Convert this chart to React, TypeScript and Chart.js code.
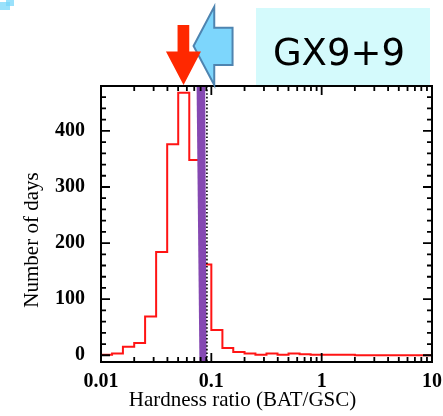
import React, { useEffect, useRef } from "react";
import { Chart, registerables } from "chart.js";

Chart.register(...registerables);

// ---- data ----
const binEdges = [
  0.01, 0.0126, 0.0158, 0.02, 0.0251, 0.0316, 0.0398, 0.0501, 0.0631, 0.0794,
  0.1, 0.126, 0.158, 0.2, 0.251, 0.316, 0.398, 0.501, 0.631, 0.794,
  1, 1.26, 1.58, 2, 2.51, 3.16, 3.98, 5.01, 6.31, 7.94, 10,
];
const dayCounts = [
  1, 3, 15, 22, 69, 184, 376, 468, 348, 162,
  45, 13, 6, 3, 1, 3, 1, 3, 2, 1,
  1, 1, 1, 0, 0, 0, 0, 0, 0, 0,
];
const xTickValues = [0.01, 0.1, 1, 10];
const xTickLabels = ["0.01", "0.1", "1", "10"];
const xMinorMultipliers = [2, 3, 4, 5, 6, 7, 8, 9];
const yTickValues = [0, 100, 200, 300, 400];
const yTickLabels = ["0", "100", "200", "300", "400"];
const yMinorStep = 20;
const yMin = -12;
const yMax = 480;
const bandTop = [0.0735, 0.088];
const bandBottom = [0.078, 0.0905];
const dottedLineX = 0.0912;
const redArrowX = 0.056;
const blueArrowX = 0.069;
const sourceName = "GX9+9";
const xTitle = "Hardness ratio (BAT/GSC)";
const yTitle = "Number of days";

const SERIF = "'Liberation Serif', 'Times New Roman', serif";

const decorPlugin = {
  id: "decor",
  afterDatasetsDraw(chart: any) {
    const { ctx, chartArea: a } = chart;
    const x = chart.scales.x;
    ctx.save();
    // purple band
    ctx.fillStyle = "rgb(133,72,178)";
    ctx.beginPath();
    ctx.moveTo(x.getPixelForValue(bandTop[0]), a.top);
    ctx.lineTo(x.getPixelForValue(bandTop[1]), a.top);
    ctx.lineTo(x.getPixelForValue(bandBottom[1]), a.bottom);
    ctx.lineTo(x.getPixelForValue(bandBottom[0]), a.bottom);
    ctx.closePath();
    ctx.fill();
    // dotted line
    const dx = x.getPixelForValue(dottedLineX);
    ctx.strokeStyle = "#000";
    ctx.lineWidth = 1.6;
    ctx.setLineDash([1.6, 2]);
    ctx.beginPath();
    ctx.moveTo(dx, a.top);
    ctx.lineTo(dx, a.bottom);
    ctx.stroke();
    ctx.restore();
  },
  afterDraw(chart: any) {
    const { ctx, chartArea: a } = chart;
    const x = chart.scales.x;
    const y = chart.scales.y;
    ctx.save();
    // frame
    ctx.strokeStyle = "#000";
    ctx.lineWidth = 2;
    ctx.strokeRect(a.left, a.top, a.right - a.left, a.bottom - a.top);
    // y ticks
    ctx.lineWidth = 1.8;
    ctx.beginPath();
    for (let v = 0; v <= yMax; v += yMinorStep) {
      const py = y.getPixelForValue(v);
      if (py < a.top + 1) continue;
      const len = yTickValues.includes(v) ? 9 : 5;
      ctx.moveTo(a.left, py);
      ctx.lineTo(a.left + len, py);
      ctx.moveTo(a.right, py);
      ctx.lineTo(a.right - len, py);
    }
    // x ticks
    for (let d = 0; d < xTickValues.length; d++) {
      const dec = xTickValues[d];
      const px = x.getPixelForValue(dec);
      ctx.moveTo(px, a.bottom);
      ctx.lineTo(px, a.bottom - 9);
      ctx.moveTo(px, a.top);
      ctx.lineTo(px, a.top + 9);
      if (d < xTickValues.length - 1) {
        for (const m of xMinorMultipliers) {
          const mx = x.getPixelForValue(dec * m);
          ctx.moveTo(mx, a.bottom);
          ctx.lineTo(mx, a.bottom - 5);
          ctx.moveTo(mx, a.top);
          ctx.lineTo(mx, a.top + 5);
        }
      }
    }
    ctx.stroke();

    // axis titles
    ctx.fillStyle = "#000";
    ctx.font = `21px ${SERIF}`;
    ctx.textAlign = "center";
    ctx.textBaseline = "alphabetic";
    ctx.fillText(xTitle, 242.5, 406);
    ctx.save();
    ctx.translate(38, 240);
    ctx.rotate(-Math.PI / 2);
    ctx.fillText(yTitle, 0, 0);
    ctx.restore();

    // cyan label box
    ctx.fillStyle = "rgb(212,250,252)";
    ctx.fillRect(256, 8, 174, a.top - 9);
    ctx.fillStyle = "#000";
    ctx.font = "37px 'DejaVu Sans', Verdana, sans-serif";
    ctx.textAlign = "center";
    ctx.fillText(sourceName, 339, 65);

    // blue arrow (pointing left)
    const bx = x.getPixelForValue(blueArrowX);
    ctx.beginPath();
    ctx.moveTo(bx, 46);
    ctx.lineTo(bx + 20.7, 6.7);
    ctx.lineTo(bx + 20.7, 27.7);
    ctx.lineTo(bx + 39, 27.7);
    ctx.lineTo(bx + 39, 65);
    ctx.lineTo(bx + 20.7, 65);
    ctx.lineTo(bx + 20.7, a.top - 1);
    ctx.closePath();
    ctx.fillStyle = "rgb(125,214,252)";
    ctx.fill();
    ctx.strokeStyle = "rgb(78,132,176)";
    ctx.lineWidth = 2;
    ctx.stroke();

    // red arrow (pointing down)
    const rx = x.getPixelForValue(redArrowX);
    ctx.beginPath();
    ctx.moveTo(rx - 6, 25);
    ctx.lineTo(rx + 5.7, 25);
    ctx.lineTo(rx + 5.7, 51.5);
    ctx.lineTo(rx + 17.4, 51.5);
    ctx.lineTo(rx, a.top - 1);
    ctx.lineTo(rx - 17.6, 51.5);
    ctx.lineTo(rx - 6, 51.5);
    ctx.closePath();
    ctx.fillStyle = "rgb(255,40,0)";
    ctx.fill();

    // small artifacts top-left
    ctx.fillStyle = "rgba(120,215,250,0.75)";
    ctx.fillRect(0, 2, 10, 8);
    ctx.fillRect(6, 0, 8, 6);
    ctx.restore();
  },
};

export default function App() {
  const canvasRef = useRef<HTMLCanvasElement | null>(null);

  useEffect(() => {
    const canvas = canvasRef.current;
    if (!canvas) return;
    const points = binEdges.map((e, i) => ({
      x: e,
      y: i < dayCounts.length ? dayCounts[i] : dayCounts[dayCounts.length - 1],
    }));
    const chart = new Chart(canvas, {
      type: "line",
      data: {
        datasets: [
          {
            data: points,
            stepped: "before",
            borderColor: "rgb(255,20,20)",
            borderWidth: 2,
            pointRadius: 0,
            fill: false,
          },
        ],
      },
      options: {
        responsive: false,
        animation: false,
        devicePixelRatio: 1,
        layout: { padding: { top: 86, right: 11, left: 0, bottom: 0 } },
        plugins: { legend: { display: false }, tooltip: { enabled: false } },
        scales: {
          x: {
            type: "logarithmic",
            min: 0.01,
            max: 10,
            grid: { display: false, drawTicks: false },
            border: { display: false },
            afterBuildTicks: (s: any) => {
              s.ticks = xTickValues.map((v) => ({ value: v, major: true }));
            },
            afterFit: (s: any) => {
              s.height = 54;
              s.paddingLeft = 0;
              s.paddingRight = 0;
            },
            ticks: {
              autoSkip: false,
              maxRotation: 0,
              padding: 8,
              color: "#000",
              font: { family: SERIF, size: 20, weight: "bold" },
              callback: (_v: any, i: number) => xTickLabels[i],
            },
          },
          y: {
            type: "linear",
            min: yMin,
            max: yMax,
            grid: { display: false, drawTicks: false },
            border: { display: false },
            afterBuildTicks: (s: any) => {
              s.ticks = yTickValues.map((v) => ({ value: v }));
            },
            afterFit: (s: any) => {
              s.width = 101;
              s.paddingTop = 0;
              s.paddingBottom = 0;
            },
            ticks: {
              autoSkip: false,
              padding: 16,
              color: "#000",
              font: { family: SERIF, size: 20, weight: "bold" },
              callback: (_v: any, i: number) => yTickLabels[i],
            },
          },
        },
      },
      plugins: [decorPlugin],
    });
    return () => chart.destroy();
  }, []);

  return (
    <div style={{ position: "fixed", left: 0, top: 0, width: 443, height: 416, background: "#fff" }}>
      <canvas ref={canvasRef} width={443} height={416} />
    </div>
  );
}
